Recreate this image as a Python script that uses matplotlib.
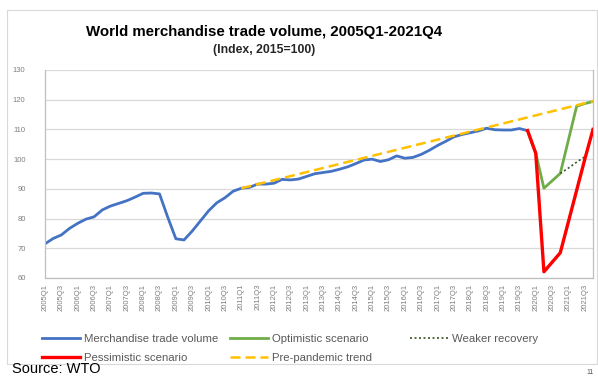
import matplotlib
matplotlib.use("Agg")
import matplotlib.pyplot as plt
from matplotlib.patches import Rectangle

plt.rcParams["font.family"] = ["Liberation Sans", "DejaVu Sans"]

# Quarters 2005Q1 - 2021Q4
quarters = [f"{y}Q{q}" for y in range(2005, 2022) for q in range(1, 5)]

# Merchandise trade volume, 2005Q1 - 2019Q4 (index, 2015=100)
trade_volume = [
    71.5, 73.3, 74.5, 76.7, 78.4, 79.8, 80.6, 82.9, 84.2, 85.1,
    86.0, 87.2, 88.5, 88.6, 88.3, 80.5, 73.2, 72.8, 75.8, 79.2,
    82.6, 85.3, 87.0, 89.2, 90.2, 90.5, 91.6, 91.6, 91.9, 93.2,
    93.0, 93.3, 94.2, 95.1, 95.5, 95.9, 96.6, 97.4, 98.5, 99.7,
    100.0, 99.2, 99.8, 101.1, 100.3, 100.6, 101.6, 103.0, 104.6, 106.0,
    107.5, 108.3, 108.9, 109.5, 110.4, 109.9, 109.8, 109.8, 110.3, 109.6,
]

# Scenarios, 2019Q4 - 2021Q4
scenario_q = quarters[59:]
optimistic = [109.6, 102.0, 90.2, 92.7, 95.2, 106.5, 117.8, 118.7, 119.4]
pessimistic = [109.6, 102.0, 62.1, 65.3, 68.5, 79.0, 89.5, 100.0, 110.0]

# Weaker recovery, 2020Q4 - 2021Q3
weaker_q = ["2020Q4", "2021Q1", "2021Q2", "2021Q3"]
weaker = [95.2, 97.0, 99.0, 100.8]

# Pre-pandemic trend (straight line)
trend_q = ["2011Q1", "2021Q4"]
trend = [90.2, 119.5]

W, H = 598, 379
fig = plt.figure(figsize=(W / 100, H / 100), dpi=100)
ax = fig.add_axes([45 / W, 1 - 278 / H, (593 - 45) / W, (278 - 70) / H])

pos = {q: i for i, q in enumerate(quarters)}

l_blue, = ax.plot(range(len(trade_volume)), trade_volume, color="#4472C4", lw=2,
                  label="Merchandise trade volume", zorder=2)
l_green, = ax.plot([pos[q] for q in scenario_q], optimistic, color="#70AD47", lw=2,
                   label="Optimistic scenario", zorder=3)
l_dot, = ax.plot([pos[q] for q in weaker_q], weaker, color="#375623", lw=1.2,
                 linestyle=(0, (1.2, 1.5)), label="Weaker recovery", zorder=3)
l_red, = ax.plot([pos[q] for q in scenario_q], pessimistic, color="#FF0000", lw=2.4,
                 label="Pessimistic scenario", zorder=4)
l_yel, = ax.plot([pos[q] for q in trend_q], trend, color="#FFC000", lw=1.8,
                 linestyle=(0, (4, 2)), label="Pre-pandemic trend", zorder=5)

ax.set_xlim(0, len(quarters) - 1)
ax.set_ylim(60, 130)
ax.set_yticks(range(60, 131, 10))
ax.set_xticks(range(0, len(quarters), 2))
ax.set_xticklabels(quarters[::2], rotation=90)
ax.tick_params(axis="x", labelsize=5.5, colors="#7F7F7F", length=0, pad=4)
ax.tick_params(axis="y", labelsize=5.5, colors="#7F7F7F", length=0, pad=14)
ax.grid(axis="y", color="#D9D9D9", lw=0.9)
ax.set_axisbelow(True)
ax.spines["top"].set_visible(False)
for side in ["left", "bottom", "right"]:
    ax.spines[side].set_color("#BFBFBF")
    ax.spines[side].set_linewidth(0.9)

fig.text(264 / W, 1 - 32 / H, "World merchandise trade volume, 2005Q1-2021Q4",
         ha="center", va="center", fontsize=10.8, fontweight="bold")
fig.text(264 / W, 1 - 50 / H, "(Index, 2015=100)", ha="center", va="center",
         fontsize=8.8, fontweight="bold", color="#262626")

# legend, three columns
leg_kw = dict(loc="upper left", frameon=False, fontsize=8.2, handlelength=3.3,
              handletextpad=0.4, borderpad=0, borderaxespad=0, labelspacing=0.82,
              labelcolor="#595959")
for handles, x in [([l_blue, l_red], 42), ([l_green, l_yel], 230), ([l_dot], 410)]:
    fig.legend(handles=handles, bbox_to_anchor=(x / W, 1 - 334 / H), **leg_kw)

fig.text(12 / W, 1 - 369 / H, "Source: WTO", ha="left", va="center", fontsize=10.5)
fig.text(590 / W, 1 - 372 / H, "11", ha="center", va="center", fontsize=5, color="#595959")

fig.patches.append(Rectangle((7 / W, 1 - 364 / H), (597 - 7) / W, (364 - 10) / H,
                             transform=fig.transFigure, fill=False,
                             edgecolor="#D9D9D9", lw=0.8))

fig.savefig("out.png", dpi=100)
